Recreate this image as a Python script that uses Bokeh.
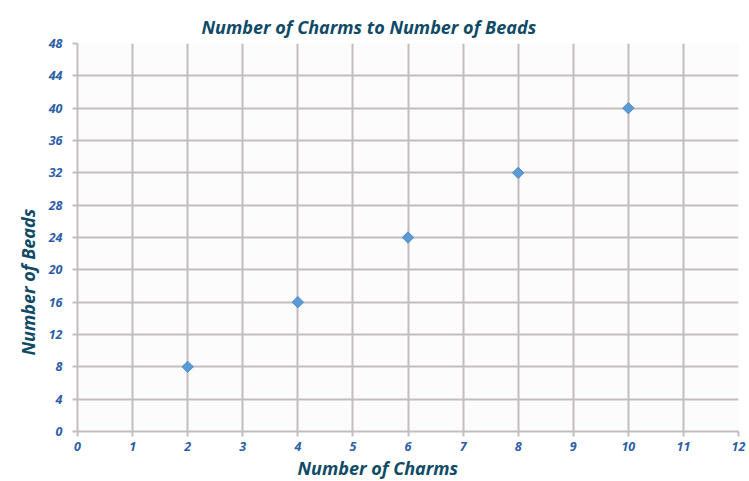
import math
from bokeh.plotting import figure
from bokeh.models import Title, FixedTicker, Range1d
from bokeh.embed import file_html
from bokeh.resources import INLINE

charms = [2, 4, 6, 8, 10]
beads = [8, 16, 24, 32, 40]
x_ticks = list(range(0, 13))
y_ticks = list(range(0, 49, 4))
title_text = "Number of Charms to Number of Beads"
x_title = "Number of Charms"
y_title = "Number of Beads"

TEAL = "#0f4a66"
TICK = "#2c5ea6"
GRID = "#c4bdbd"

p = figure(width=749, height=481, output_backend="svg", toolbar_location=None,
           x_range=Range1d(0, 12), y_range=Range1d(0, 48),
           min_border_left=77, min_border_right=11, min_border_top=43, min_border_bottom=50,
           background_fill_color="#fcfcfc", border_fill_color="#ffffff")
p.outline_line_color = None

for ax in (p.xaxis[0], p.yaxis[0]):
    ax.axis_line_color = GRID
    ax.axis_line_width = 2
    ax.major_tick_line_color = GRID
    ax.major_tick_line_width = 2
    ax.major_tick_in = 0
    ax.major_tick_out = 5
    ax.minor_tick_line_color = None
    ax.major_label_text_font = "Open Sans"
    ax.major_label_text_font_style = "bold italic"
    ax.major_label_text_font_size = "12.5px"
    ax.major_label_text_color = TICK

p.xaxis.ticker = FixedTicker(ticks=x_ticks)
p.yaxis.ticker = FixedTicker(ticks=y_ticks)
p.xaxis.major_label_standoff = 5
p.yaxis.major_label_standoff = 10

p.xgrid.ticker = FixedTicker(ticks=x_ticks)
p.ygrid.ticker = FixedTicker(ticks=y_ticks)
for g in (p.xgrid[0], p.ygrid[0]):
    g.grid_line_color = GRID
    g.grid_line_width = 2

p.scatter(charms, beads, marker="square", angle=math.pi / 4, size=8,
          fill_color="#5b9bd5", line_color="#4a8ac8", line_width=1)

common = dict(text_font="Open Sans", text_font_style="bold italic",
              text_color=TEAL, text_font_size="18px", align="left")
p.add_layout(Title(text=title_text, offset=124, standoff=10, **common), "above")
p.add_layout(Title(text=x_title, offset=220, standoff=0, **common), "below")
p.add_layout(Title(text=y_title, offset=76, standoff=12, **common), "left")

open("out.html", "w").write(file_html(p, INLINE))
